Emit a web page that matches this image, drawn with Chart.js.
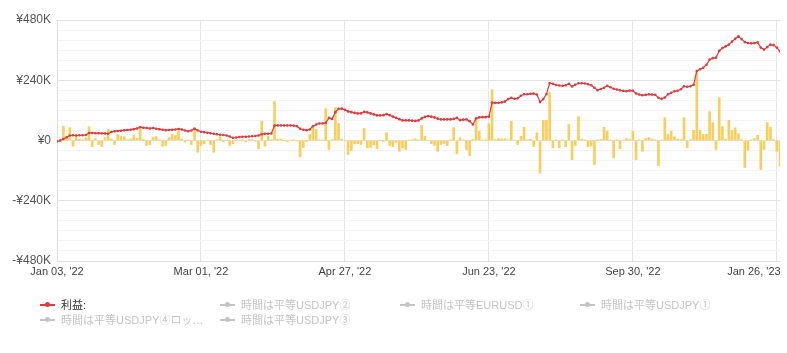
<!DOCTYPE html>
<html>
<head>
<meta charset="utf-8">
<script src="https://cdn.jsdelivr.net/npm/chart.js@4.4.1/dist/chart.umd.min.js"></script>
<style>
  body { margin: 0; background: #fff; }
  #wrap { position: relative; width: 787px; height: 353px; }
  #legend { position: absolute; left: 0; top: 0; width: 787px; height: 353px; pointer-events: none;
    font: 11px "Liberation Sans", Arial, "Noto Sans CJK JP", sans-serif; }
  .item { position: absolute; white-space: nowrap; line-height: 14px; }
  .mark { display: inline-block; position: relative; width: 15px; height: 14px; vertical-align: top; margin-right: 6px; }
  .mark i { position: absolute; left: 0; top: 6px; width: 15px; height: 2px; }
  .mark b { position: absolute; left: 5px; top: 4px; width: 5px; height: 5px; border-radius: 50%; }
</style>
</head>
<body>
<div id="wrap">
  <canvas id="chart"></canvas>
  <div id="legend"></div>
</div>
<script>
// values in thousands of yen, one per trading day
const profitK = [
  -4, 0, 6, 13, 20, 21, 20, 21, 21, 22,
  30, 30, 29, 29, 28, 28, 27, 34, 37, 38,
  39, 41, 42, 43, 45, 48, 53, 51, 50, 48,
  50, 47, 45, 43, 41, 42, 43, 44, 46, 44,
  40, 37, 40, 47, 40, 35, 33, 31, 29, 27,
  25, 23, 22, 20, 16, 11, 12, 14, 15, 15,
  16, 17, 18, 20, 25, 27, 27, 28, 60, 60,
  60, 60, 60, 60, 59, 57, 47, 43, 41, 44,
  57, 64, 68, 68, 70, 90, 86, 113, 126, 127,
  122, 116, 113, 110, 108, 108, 114, 112, 108, 104,
  100, 100, 101, 105, 101, 95, 90, 85, 80, 80,
  80, 79, 78, 80, 88, 94, 97, 95, 92, 87,
  84, 84, 84, 84, 86, 90, 81, 83, 84, 77,
  64, 88, 92, 93, 93, 95, 151, 150, 150, 152,
  155, 165, 170, 166, 168, 178, 184, 184, 186, 187,
  183, 153, 165, 185, 228, 226, 221, 219, 218, 220,
  226, 215, 222, 228, 228, 227, 224, 220, 210, 200,
  205, 210, 218, 212, 206, 203, 200, 198, 196, 199,
  198, 187, 183, 180, 182, 184, 183, 182, 170, 166,
  171, 184, 190, 196, 198, 204, 216, 214, 216, 222,
  277, 284, 290, 302, 322, 328, 330, 357, 368, 375,
  382, 394, 405, 415, 404, 392, 388, 387, 388, 391,
  370, 362, 372, 382, 380, 370, 355
];

const dailyK = [
  4, -3, 57, 8, 51, -23, 17, 5, 3, 10,
  55, -25, 8, -16, -23, 11, 44, 5, -16, 24,
  16, 15, 3, 6, 20, 8, 57, 4, -20, -17,
  12, 16, 3, -23, -20, 11, 24, 20, 37, 5,
  -6, 3, -16, 51, -47, -20, -13, 2, -16, -47,
  3, 15, -5, 2, -20, -13, 2, 0, 3, -6,
  4, 3, -2, -33, 77, -23, 17, 3, 155, 5,
  6, 0, -5, 2, 3, 0, -65, -28, -4, 24,
  51, 44, 3, 2, 127, -36, 4, 131, 68, 5,
  2, -56, -40, -13, -13, -16, 48, -29, -28, -17,
  -33, 2, -4, 31, -20, -25, -8, -43, -29, -36,
  2, 3, 6, 2, 60, 17, 0, -13, -20, -43,
  -16, -12, -20, 3, 51, -53, 11, 2, -36, -60,
  4, 88, 37, 2, 3, 67, 202, 4, 8, 6,
  7, 3, 77, 2, -16, 17, 53, 3, 5, -24,
  31, -130, 80, 80, 191, -29, 3, -29, 3, -25,
  64, -76, -20, 95, 5, 3, -25, -22, -96, 3,
  4, 53, 37, 2, -69, 3, -33, 2, 8, 4,
  37, -76, 3, -43, 8, 11, 6, 3, -100, 2,
  91, 24, 37, 15, 5, 4, 91, -29, 3, 40,
  271, 40, 24, 24, 115, 71, -36, 171, 55, 5,
  80, 40, 51, 27, 3, -107, -39, 3, 8, 21,
  -116, -36, 71, 53, 3, -43, -103
];

const xTickLabels = ["Jan 03, '22", "Mar 01, '22", "Apr 27, '22", "Jun 23, '22", "Sep 30, '22", "Jan 26, '23"];
const tickEvery = 45;
const yLabelStep = 240000;

const seriesNames = ["利益:", "時間は平等USDJPY②", "時間は平等EURUSD①", "時間は平等USDJPY①", "時間は平等USDJPY④ロッ…", "時間は平等USDJPY③"];
const seriesHidden = [false, true, true, true, true, true];

const lineColor = "#e0393e";
const barColor = "rgba(247, 199, 64, 0.85)";

Chart.defaults.font.family = '"Liberation Sans", Arial, "Noto Sans CJK JP", sans-serif';

function yen(v) {
  if (v === 0) return "¥0";
  const s = "¥" + Math.abs(v / 1000) + "K";
  return v < 0 ? "-" + s : s;
}

const chart = new Chart(document.getElementById("chart"), {
  type: "bar",
  data: {
    datasets: [
      {
        type: "line",
        label: seriesNames[0],
        data: profitK.map((v, i) => ({ x: i, y: v * 1000 })),
        borderColor: lineColor,
        backgroundColor: lineColor,
        borderWidth: 1.2,
        pointRadius: 1.3,
        pointBorderWidth: 0,
        tension: 0,
        order: 0,
      },
      {
        label: "daily",
        data: dailyK.map((v, i) => ({ x: i, y: v * 1000 })),
        backgroundColor: barColor,
        barThickness: 2,
        order: 1,
      },
    ],
  },
  options: {
    responsive: true,
    maintainAspectRatio: false,
    animation: false,
    layout: { padding: { top: 20, right: 7, left: 0, bottom: 68 } },
    plugins: { legend: { display: false }, tooltip: { enabled: false } },
    scales: {
      x: {
        type: "linear",
        min: 0,
        max: profitK.length - 1,
        offset: false,
        afterBuildTicks: (s) => {
          s.ticks = xTickLabels.map((_, k) => ({ value: k * tickEvery }));
        },
        afterFit: (s) => {
          s.height = 24;
          s.paddingRight = 0;
        },
        ticks: {
          autoSkip: false,
          maxRotation: 0,
          padding: 4,
          color: "#444",
          font: { size: 11 },
          callback: (v) => {
            const k = Math.round(v / tickEvery);
            const t = xTickLabels[k] || "";
            // last label sits left of its tick, as in the original
            return k === xTickLabels.length - 1 ? t + "\u00a0".repeat(15) : t;
          },
        },
        grid: { color: "#e4e4e4", drawTicks: false, offset: false },
        border: { color: "#e0e0e0" },
      },
      y: {
        min: -480000,
        max: 480000,
        afterFit: (s) => { s.width = 57; },
        ticks: {
          stepSize: 40000,
          autoSkip: false,
          padding: 6,
          color: "#555",
          font: { size: 12 },
          callback: (v) => (v % yLabelStep === 0 ? yen(v) : ""),
        },
        grid: {
          drawTicks: false,
          color: (c) => (c.tick && c.tick.value % yLabelStep === 0 ? "#e3e3e3" : "#f4f4f4"),
        },
        border: { color: "#e0e0e0" },
      },
    },
  },
});

// html legend in fixed columns
const legend = document.getElementById("legend");
const colX = [40, 220, 400, 580];
const rowY = [298, 313];
seriesNames.forEach((name, i) => {
  const hidden = seriesHidden[i];
  const c = hidden ? "#c4c4c4" : lineColor;
  const el = document.createElement("div");
  el.className = "item";
  el.style.left = colX[i % 4] + "px";
  el.style.top = rowY[Math.floor(i / 4)] + "px";
  el.style.color = hidden ? "#c4c4c4" : "#333";
  el.innerHTML = '<span class="mark"><i style="background:' + c + '"></i><b style="background:' + c + '"></b></span>' + name;
  legend.appendChild(el);
});
</script>
</body>
</html>
